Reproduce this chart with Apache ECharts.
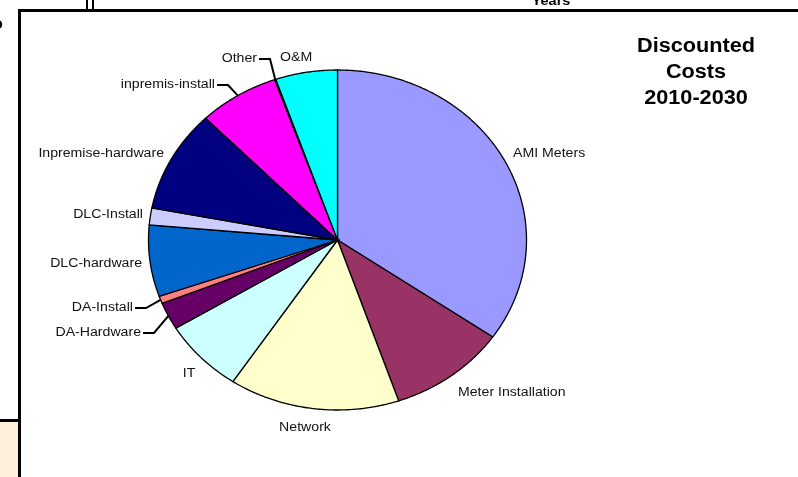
<!DOCTYPE html>
<html>
<head>
<meta charset="utf-8">
<script src="https://cdn.jsdelivr.net/npm/echarts@6/dist/echarts.min.js"></script>
<style>
  html, body { margin: 0; padding: 0; background: #fff; }
  #chart { width: 798px; height: 477px; }
</style>
</head>
<body>
<div id="chart"></div>
<script>
// Discounted cost shares, 2010-2030 (percent of total)
const categories = ['AMI Meters', 'Meter Installation', 'Network', 'IT', 'DA-Hardware', 'DA-Install',
  'DLC-hardware', 'DLC-Install', 'Inpremise-hardware', 'inpremis-install', 'Other', 'O&M'];
const values = [34.7, 10.1, 14.6, 7.0, 2.6, 0.7, 6.8, 1.6, 9.7, 6.9, 0.1, 5.3];
const titleLines = ['Discounted', 'Costs', '2010-2030'];

// Slice fills, in category order
const colors = ['#9999FF', '#993366', '#FFFFCC', '#CCFFFF', '#660066', '#FF8080',
  '#0066CC', '#CCCCFF', '#000080', '#FF00FF', '#FFFF00', '#00FFFF'];

// Pie layout: the pie is an ellipse (wider than tall)
const CX = 337.5, CY = 240, RX = 189, RY = 170;
const SX = RX / RY;            // horizontal stretch applied to the title
const LABEL_SX = 1.13;         // horizontal stretch for slice labels
const FONT = '"Liberation Sans", Arial, sans-serif';

// Label anchors [x, y, align, leader]
const labelLayout = {
  'AMI Meters': [513, 154, 'left', false],
  'Meter Installation': [458, 393, 'left', false],
  'Network': [305, 428, 'center', false],
  'IT': [189, 374, 'center', false],
  'DA-Hardware': [141, 333, 'right', true],
  'DA-Install': [133, 308, 'right', true],
  'DLC-hardware': [142, 264, 'right', false],
  'DLC-Install': [143, 215, 'right', false],
  'Inpremise-hardware': [164, 154, 'right', false],
  'inpremis-install': [215, 85, 'right', true],
  'Other': [257, 59, 'right', true],
  'O&M': [280, 58, 'left', false]
};

const total = values.reduce((a, b) => a + b, 0);
const starts = [];
values.reduce((acc, v, i) => { starts[i] = acc; return acc + v; }, 0);

// angle measured clockwise from 12 o'clock
function rim(theta) {
  return [CX + RX * Math.sin(theta), CY - RY * Math.cos(theta)];
}

function renderSlice(params, api) {
  const i = params.dataIndex;
  const v = api.value(0);
  const a0 = starts[i] / total * Math.PI * 2;
  const a1 = a0 + v / total * Math.PI * 2;
  const pts = [[CX, CY]];
  const steps = Math.max(2, Math.ceil((a1 - a0) / (Math.PI / 360)));
  for (let k = 0; k <= steps; k++) pts.push(rim(a0 + (a1 - a0) * k / steps));

  const children = [{
    type: 'polygon',
    shape: { points: pts },
    style: { fill: colors[i], stroke: '#000', lineWidth: 1.3 }
  }];

  const name = categories[i];
  const lay = labelLayout[name];
  children.push({
    type: 'text',
    x: lay[0], y: lay[1], scaleX: LABEL_SX,
    style: { text: name, x: 0, y: 0, font: '12.5px ' + FONT, fill: '#111',
      align: lay[2], verticalAlign: 'middle' },
    z2: 10
  });
  if (lay[3]) {
    const mid = rim((a0 + a1) / 2);
    const sx = lay[0] + 2;
    children.push({
      type: 'polyline',
      shape: { points: [[sx, lay[1]], [sx + 11, lay[1]], mid] },
      style: { stroke: '#000', lineWidth: 2, fill: null },
      z2: 10
    });
  }
  return { type: 'group', children: children };
}

const chart = echarts.init(document.getElementById('chart'), null, { renderer: 'canvas' });

const decorations = [
  // neighbouring panel fragments
  { type: 'text', x: 3, y: 24, style: { text: 'o', font: 'bold 17px ' + FONT, fill: '#000', align: 'right', verticalAlign: 'middle' } },
  { type: 'text', x: 551, y: 1, scaleX: SX, style: { text: 'Years', font: 'bold 13px ' + FONT, fill: '#000', align: 'center', verticalAlign: 'middle' } },
  { type: 'rect', shape: { x: 86, y: 0, width: 2, height: 10 }, style: { fill: '#000' } },
  { type: 'rect', shape: { x: 92, y: 0, width: 2, height: 10 }, style: { fill: '#000' } },
  { type: 'rect', shape: { x: 0, y: 422, width: 18, height: 55 }, style: { fill: '#FCF0DA' } },
  { type: 'rect', shape: { x: 0, y: 419, width: 18, height: 3 }, style: { fill: '#000' } },
  // chart frame
  { type: 'rect', shape: { x: 18, y: 9, width: 780, height: 3 }, style: { fill: '#000' } },
  { type: 'rect', shape: { x: 18, y: 9, width: 3, height: 468 }, style: { fill: '#000' } }
];
titleLines.forEach((t, k) => {
  decorations.push({
    type: 'text', x: 696, y: 47 + k * 26, scaleX: SX,
    style: { text: t, font: 'bold 19.5px ' + FONT, fill: '#000', align: 'center', verticalAlign: 'middle' }
  });
});

chart.setOption({
  animation: false,
  backgroundColor: '#fff',
  graphic: decorations,
  series: [{
    type: 'custom',
    coordinateSystem: 'none',
    renderItem: renderSlice,
    data: values.map((v, i) => ({ name: categories[i], value: [v] }))
  }]
});
</script>
</body>
</html>
